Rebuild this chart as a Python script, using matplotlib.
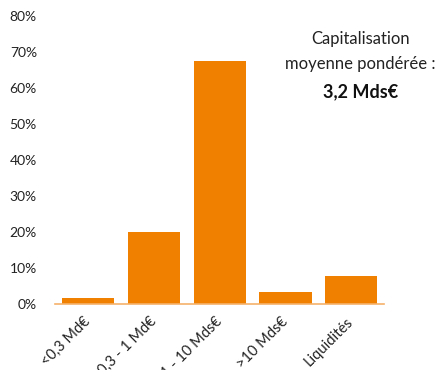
import numpy as np
import matplotlib.pyplot as plt
from matplotlib.ticker import PercentFormatter

plt.rcParams['font.family'] = ['Lato', 'DejaVu Sans']

categories = ['<0,3 Md€', '0,3 - 1 Md€', '1 - 10 Mds€', '>10 Mds€', 'Liquidités']
values = [0.017, 0.20, 0.675, 0.033, 0.078]
bar_color = '#F08000'

fig = plt.figure(figsize=(4.42, 3.70), dpi=100)
ax = fig.add_axes([0.1244, 0.178, 0.745, 0.779])

x = np.arange(len(categories))
ax.bar(x, values, width=0.79, color=bar_color)

ax.set_xlim(-0.5, len(categories) - 0.5)
ax.set_ylim(0, 0.8)
ax.set_yticks(np.arange(0, 0.81, 0.1))
ax.yaxis.set_major_formatter(PercentFormatter(1.0, decimals=0))
ax.set_xticks(x)
ax.set_xticklabels(categories, rotation=45, ha='right', va='center', rotation_mode='anchor')

for s in ['top', 'right', 'left']:
    ax.spines[s].set_visible(False)
ax.spines['bottom'].set_color('#F6B26B')
ax.spines['bottom'].set_linewidth(1.2)
ax.tick_params(axis='both', length=0, colors='#222222')
ax.tick_params(axis='y', pad=13, labelsize=10)
ax.tick_params(axis='x', pad=11, labelsize=10.5)

fig.text(0.815, 0.895, 'Capitalisation', ha='center', va='center', fontsize=12, color='#222222')
fig.text(0.815, 0.827, 'moyenne pondérée :', ha='center', va='center', fontsize=12, color='#222222')
fig.text(0.815, 0.752, '3,2 Mds€', ha='center', va='center', fontsize=13, fontweight='bold', color='#111111')

fig.savefig('out.png', dpi=100)
